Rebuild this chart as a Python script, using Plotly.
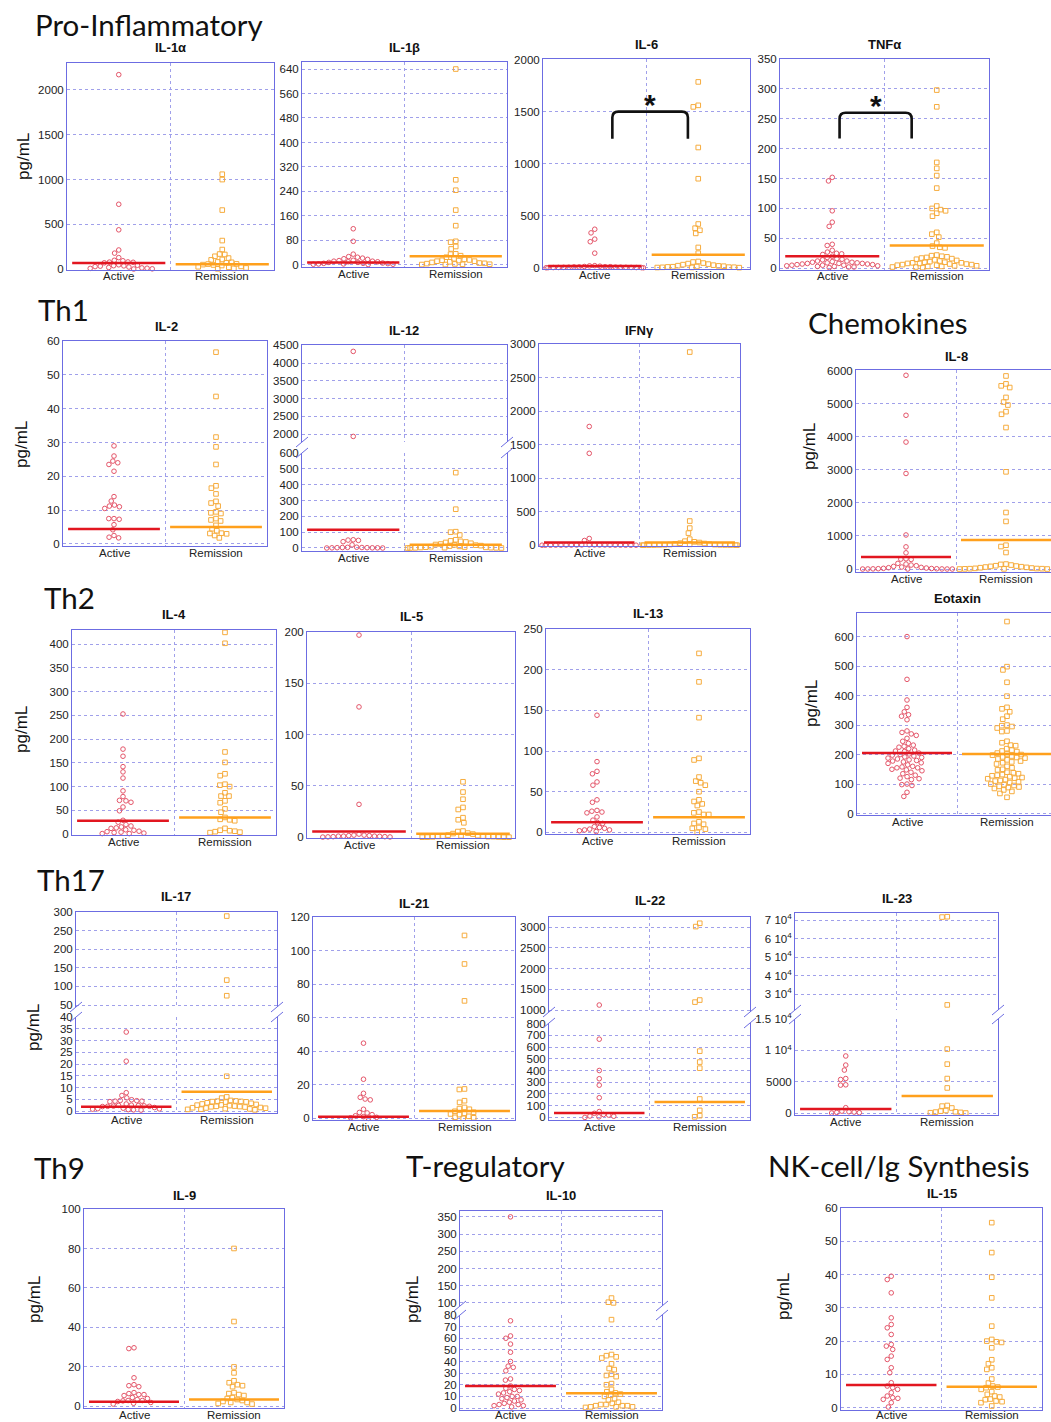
import math
import plotly.graph_objects as go

W, H = 1051, 1422
CATEGORIES = ["Active", "Remission"]

# ---------------- data (pg/mL) ----------------
IL1A_ACTIVE = [2170, 725, 440, 215, 180, 130, 100, 95, 82, 80, 78, 72, 45, 40, 38, 35, 30, 25, 20, 15, 12, 10, 5, 3, 50]
IL1A_REMISSION = [1060, 1000, 660, 320, 220, 170, 165, 145, 125, 110, 105, 82, 78, 72, 60, 52, 48, 42, 32, 28, 22, 15, 10, 5, 58]
IL1A_MEDIAN = [70, 55]
IL1A_TICKS = [0, 500, 1000, 1500, 2000]

IL1B_ACTIVE = [118, 77, 35, 27, 25, 22, 20, 18, 15, 12, 10, 8, 8, 6, 5, 5, 4, 3, 3, 2, 2, 1, 10, 12, 14]
IL1B_REMISSION = [640, 278, 244, 179, 128, 77, 74, 60, 52, 36, 35, 30, 25, 20, 18, 15, 12, 10, 8, 6, 5, 4, 3, 2, 2, 1, 1, 12, 14, 16]
IL1B_MEDIAN = [8, 28]
IL1B_TICKS = [0, 80, 160, 240, 320, 400, 480, 560, 640]

IL6_ACTIVE = [370, 335, 275, 250, 140, 20, 18, 15, 12, 10, 10, 8, 8, 6, 5, 5, 4, 4, 3, 3, 2, 2, 1, 1, 0, 0]
IL6_REMISSION = [1785, 1560, 1545, 1155, 855, 420, 380, 360, 330, 195, 140, 60, 55, 45, 40, 35, 30, 25, 20, 18, 15, 12, 10, 8, 6, 5, 4, 3, 2, 1]
IL6_MEDIAN = [18, 125]
IL6_TICKS = [0, 500, 1000, 1500, 2000]
IL6_BRACKET = dict(x=[0.17, 0.90], top=1500, leg=1240)

TNF_ACTIVE = [152, 146, 96, 77, 70, 40, 38, 30, 27, 25, 24, 23, 20, 18, 16, 15, 14, 12, 11, 10, 9, 8, 8, 7, 6, 5, 5, 4, 4, 3, 3, 2, 2, 1, 12, 10, 9, 8, 7, 6, 5]
TNF_REMISSION = [298, 270, 177, 167, 155, 134, 104, 100, 98, 96, 92, 87, 60, 57, 52, 42, 37, 35, 34, 22, 21, 20, 19, 18, 17, 16, 15, 14, 13, 12, 11, 10, 10, 9, 9, 8, 8, 7, 7, 6, 6, 5, 5, 4, 4, 3, 3, 2, 2, 1]
TNF_MEDIAN = [20, 38]
TNF_TICKS = [0, 50, 100, 150, 200, 250, 300, 350]
TNF_BRACKET = dict(x=[0.07, 0.76], top=260, leg=217)

IL2_ACTIVE = [29, 26, 24.5, 24, 23.5, 21.5, 14, 12.7, 11.5, 11.2, 11, 10.5, 7.5, 7.5, 7.3, 5.7, 4.2, 2.5, 2, 1.8]
IL2_REMISSION = [56.7, 43.6, 31.6, 28.7, 23.5, 17.2, 16.5, 14.8, 12.6, 12.1, 11.2, 9.5, 9.2, 9.0, 7.5, 7.1, 6.8, 5.5, 4.5, 3.9, 3.2, 3.1, 3.0, 2.5, 1.8]
IL2_MEDIAN = [4.4, 5.0]
IL2_TICKS = [0, 10, 20, 30, 40, 50, 60]

IL12_ACTIVE = [4330, 1935, 50, 48, 52, 40, 20, 5, 4, 3, 3, 2, 2, 1, 1, 1, 0, 0]
IL12_REMISSION = [476, 245, 103, 100, 82, 52, 45, 42, 38, 35, 30, 25, 22, 20, 18, 15, 12, 10, 8, 6, 5, 4, 3, 2, 2, 1, 1, 0, 0, 0]
IL12_MEDIAN = [115, 20]
IL12_TICKS_UPPER = [2000, 2500, 3000, 3500, 4000, 4500]
IL12_TICKS_LOWER = [0, 100, 200, 300, 400, 500, 600]

IFNG_ACTIVE = [1770, 1370, 100, 70, 5, 4, 4, 3, 3, 3, 2, 2, 2, 1, 1, 1, 1, 0, 0, 0, 0, 0, 0]
IFNG_REMISSION = [2880, 360, 255, 180, 90, 60, 50, 40, 30, 25, 20, 15, 12, 10, 8, 6, 5, 4, 3, 2, 2, 1, 1, 0, 0, 0]
IFNG_MEDIAN = [40, 40]
IFNG_TICKS = [0, 500, 1000, 1500, 2000, 2500, 3000]

IL8_ACTIVE = [5860, 4650, 3840, 2890, 1030, 670, 490, 310, 300, 290, 170, 150, 120, 100, 80, 60, 50, 40, 30, 20, 15, 10, 8, 5, 3, 2, 1, 0, 0, 0]
IL8_REMISSION = [5840, 5600, 5540, 5490, 5190, 5050, 4960, 4760, 4680, 4280, 2940, 1710, 1440, 720, 680, 500, 150, 140, 120, 100, 90, 80, 70, 60, 50, 40, 30, 20, 15, 10, 10, 5, 5, 0, 0]
IL8_MEDIAN = [360, 880]
IL8_TICKS = [0, 1000, 2000, 3000, 4000, 5000, 6000]

IL4_ACTIVE = [253, 179, 164, 142, 131, 118, 91, 79, 71, 70, 67, 57, 49, 29, 25, 20, 17, 15, 13, 12, 9, 8, 6, 5, 4, 3, 2, 1, 1]
IL4_REMISSION = [425, 402, 173, 151, 127, 123, 105, 103, 100, 87, 80, 80, 70, 66, 53, 46, 35, 31, 30, 28, 12, 8, 7, 6, 5, 4, 3]
IL4_MEDIAN = [28, 35]
IL4_TICKS = [0, 50, 100, 150, 200, 250, 300, 350, 400]

IL5_ACTIVE = [197, 127, 32, 3, 2, 2, 1.5, 1.5, 1, 1, 1, 0.8, 0.5, 0.5, 0.3, 0.2, 0.1]
IL5_REMISSION = [54, 44, 37, 29, 27, 19, 17, 14, 6, 5.5, 4, 3.5, 3, 2, 1.5, 1.3, 1, 1, 0.8, 0.5, 0.5, 0.3, 0.2, 0.1, 0, 0, 0]
IL5_MEDIAN = [5.5, 3.3]
IL5_TICKS = [0, 50, 100, 150, 200]

IL13_ACTIVE = [144, 87, 75, 72, 62, 58, 40, 37, 27, 26, 25, 24, 19, 15, 12, 11, 7, 6, 5, 4, 3, 3, 2, 1]
IL13_REMISSION = [220, 185, 141, 91, 89, 68, 63, 61, 58, 50, 40, 38, 35, 33, 25, 24, 22, 22, 13, 11, 10, 6, 5, 4, 0]
IL13_MEDIAN = [12.5, 18.5]
IL13_TICKS = [0, 50, 100, 150, 200, 250]

EOT_ACTIVE = [600, 455, 385, 360, 345, 335, 330, 318, 280, 275, 270, 265, 255, 245, 238, 232, 228, 225, 220, 215,
              212, 210, 205, 202, 200, 198, 195, 192, 190, 188, 185, 182, 180, 178, 175, 172, 170, 165, 160, 158,
              155, 155, 150, 148, 145, 140, 135, 130, 125, 120, 118, 115, 100, 98, 95, 72, 58]
EOT_REMISSION = [651, 498, 487, 445, 398, 360, 355, 345, 330, 320, 300, 298, 295, 290, 280, 278, 245, 240, 232, 230,
                 220, 215, 212, 210, 205, 202, 200, 198, 195, 192, 190, 188, 185, 182, 178, 175, 172, 168, 160, 155,
                 150, 148, 140, 138, 135, 132, 130, 128, 125, 122, 120, 118, 115, 112, 110, 108, 105, 100, 98, 95,
                 92, 90, 88, 85, 80, 75, 68, 55]
EOT_MEDIAN = [205, 202]
EOT_TICKS = [0, 100, 200, 300, 400, 500, 600]

IL17_ACTIVE = [33.6, 21.2, 7.8, 6.6, 5.6, 4.8, 4.5, 4.4, 4.2, 4.2, 4.0, 3.0, 2.5, 2.4, 2.3, 2.2, 2.1, 2.0, 2.0, 1.9, 1.5, 1.2, 1.0, 0.9, 0.8, 0.6, 0.5, 0.4]
IL17_REMISSION = [289, 117, 75, 14.8, 6.0, 5.5, 4.5, 4.3, 4.1, 3.9, 3.5, 3.3, 3.0, 2.8, 2.6, 2.5, 2.3, 2.1, 2.0, 1.9, 1.8, 1.7, 1.5, 1.4, 1.3, 1.2, 1.0, 0.9, 0.8, 0.7, 0.5, 4.2, 4.0, 3.8]
IL17_MEDIAN = [1.8, 8.2]
IL17_TICKS_UPPER = [50, 100, 150, 200, 250, 300]
IL17_TICKS_LOWER = [0, 5, 10, 15, 20, 25, 30, 35, 40]

IL21_ACTIVE = [44.8, 23.3, 14.9, 12.5, 11.5, 11, 5.4, 3.5, 3.2, 2.2, 1.5, 1, 0.6, 0.3, 0]
IL21_REMISSION = [109, 92, 70, 17.5, 17.2, 10.5, 9.5, 6.5, 5.8, 5.4, 4.2, 3.6, 3.0, 2.6, 2.2, 1.2, 0.6, 0.3, 0]
IL21_MEDIAN = [1.0, 4.4]
IL21_TICKS = [0, 20, 40, 60, 80, 100, 120]

IL22_ACTIVE = [1120, 667, 400, 330, 275, 168, 50, 35, 25, 20, 12, 10, 5, 0]
IL22_REMISSION = [3090, 3010, 1240, 1190, 565, 472, 420, 157, 60, 15, 5]
IL22_MEDIAN = [37, 132]
IL22_TICKS_UPPER = [1000, 1500, 2000, 2500, 3000]
IL22_TICKS_LOWER = [0, 100, 200, 300, 400, 500, 600, 700, 800]

IL23_ACTIVE = [9100, 7650, 6850, 5500, 5350, 4500, 4450, 850, 300, 200, 150, 100, 50, 0]
IL23_REMISSION = [71800, 71600, 24100, 10200, 7800, 5500, 4000, 1200, 1100, 800, 400, 300, 200, 150, 100, 50, 0]
IL23_MEDIAN = [640, 2730]
IL23_TICKS_UPPER = [30000, 40000, 50000, 60000, 70000]
IL23_LABELS_UPPER = ["3 10<sup>4</sup>", "4 10<sup>4</sup>", "5 10<sup>4</sup>", "6 10<sup>4</sup>", "7 10<sup>4</sup>"]
IL23_TICKS_LOWER = [0, 5000, 10000, 15000]
IL23_LABELS_LOWER = ["0", "5000", "1 10<sup>4</sup>", "1.5 10<sup>4</sup>"]

IL9_ACTIVE = [29.7, 29.3, 14.5, 11, 10.5, 10, 7, 6.5, 6, 6, 5.5, 4.5, 4, 3.5, 3, 3, 2.8, 2.5, 2, 1.6, 1.2]
IL9_REMISSION = [80, 43, 20, 17, 13, 12, 11, 10.5, 10, 7, 6.5, 6, 5.5, 4.5, 4, 3.5, 3, 2.5, 2, 2, 1.5, 1.2]
IL9_MEDIAN = [2.4, 3.5]
IL9_TICKS = [0, 20, 40, 60, 80, 100]

IL10_ACTIVE = [350, 75, 62, 60, 55, 48, 40, 36, 35, 32, 25, 24, 19, 17, 16, 15, 14, 13, 12, 10, 10, 9, 8, 7, 6, 5, 4, 3, 3, 2, 2, 1]
IL10_REMISSION = [114, 102, 100, 76, 46, 45, 44, 43, 38, 34, 33, 29, 28, 27, 21, 20, 16, 14, 13, 12, 11, 10, 8, 7, 5, 4, 3, 3, 2, 2, 2, 1, 1, 1, 0.5]
IL10_MEDIAN = [19, 12.8]
IL10_TICKS_UPPER = [100, 150, 200, 250, 300, 350]
IL10_TICKS_LOWER = [0, 10, 20, 30, 40, 50, 60, 70, 80]

IL15_ACTIVE = [39.5, 38.5, 34.5, 27, 25, 24, 22, 19, 18.5, 17.5, 15.5, 14.5, 12, 10.5, 7.5, 6.5, 6, 5.5, 4.5, 3.5, 3, 2.8, 2.5, 1.5, 0.2]
IL15_REMISSION = [55.6, 46.6, 39.2, 33, 24.5, 20.5, 20, 19.8, 19.6, 18, 14.4, 13.2, 12, 11.5, 8.6, 7.4, 6.5, 6.2, 6.0, 5.5, 4.8, 4.0, 3.5, 3.2, 2.6, 2.4, 2.0, 1.8, 1.5, 0.5]
IL15_MEDIAN = [6.8, 6.3]
IL15_TICKS = [0, 10, 20, 30, 40, 50, 60]

SECTIONS = [("Pro-Inflammatory", 33, 24), ("Th1", 36, 309), ("Chemokines", 806, 323), ("Th2", 42, 597),
            ("Th17", 35, 879), ("Th9", 32, 1167), ("T-regulatory", 404, 1165), ("NK-cell/Ig Synthesis", 766, 1165)]
UNIT_LABELS = [(23, 157), (21, 445), (809, 447), (21, 730), (811, 704), (33, 1028), (34, 1300), (412, 1300), (783, 1297)]

# ---------------- styling / layout ----------------
AX_LINE = "rgb(108,108,226)"
GRID = "rgb(160,160,234)"
RED_PT = "rgb(228,85,105)"
ORG_PT = "rgb(246,172,62)"
RED_MED = "rgb(226,22,32)"
ORG_MED = "rgb(255,160,28)"
SANS = "Liberation Sans, Arial, sans-serif"
TICK_FONT = dict(family=SANS, size=11.5, color="#222")


def seg(ytop, ybot, rng, ticks, labels=None):
    return dict(ytop=ytop, ybot=ybot, rng=rng, ticks=ticks, labels=labels)


PANELS = [
    dict(title="IL-1α", a=IL1A_ACTIVE, r=IL1A_REMISSION, med=IL1A_MEDIAN, x0=67, x1=274, tx=170, ty=47,
         segs=[seg(63, 270, (-8, 2300), IL1A_TICKS)]),
    dict(title="IL-1β", a=IL1B_ACTIVE, r=IL1B_REMISSION, med=IL1B_MEDIAN, x0=302, x1=507, tx=404, ty=47,
         segs=[seg(62, 267, (-7, 663), IL1B_TICKS)]),
    dict(title="IL-6", a=IL6_ACTIVE, r=IL6_REMISSION, med=IL6_MEDIAN, x0=543, x1=750, tx=646, ty=45,
         segs=[seg(59, 269, (-12, 2005), IL6_TICKS)], bracket=IL6_BRACKET),
    dict(title="TNFα", a=TNF_ACTIVE, r=TNF_REMISSION, med=TNF_MEDIAN, x0=780, x1=989, tx=884, ty=45,
         segs=[seg(59, 270, (-3, 350), TNF_TICKS)], bracket=TNF_BRACKET),
    dict(title="IL-2", a=IL2_ACTIVE, r=IL2_REMISSION, med=IL2_MEDIAN, x0=63, x1=267, tx=166, ty=327,
         segs=[seg(341, 546, (-0.6, 60), IL2_TICKS)]),
    dict(title="IL-12", a=IL12_ACTIVE, r=IL12_REMISSION, med=IL12_MEDIAN, x0=302, x1=507, tx=404, ty=330,
         segs=[seg(345, 442, (1778, 4510), IL12_TICKS_UPPER), seg(453, 551, (-19, 600), IL12_TICKS_LOWER)]),
    dict(title="IFNγ", a=IFNG_ACTIVE, r=IFNG_REMISSION, med=IFNG_MEDIAN, x0=539, x1=740, tx=639, ty=330,
         segs=[seg(344, 546, (-12, 3000), IFNG_TICKS)]),
    dict(title="IL-8", a=IL8_ACTIVE, r=IL8_REMISSION, med=IL8_MEDIAN, x0=856, x1=1056, tx=956, ty=356,
         segs=[seg(370, 572, (-90, 6020), IL8_TICKS)]),
    dict(title="IL-4", a=IL4_ACTIVE, r=IL4_REMISSION, med=IL4_MEDIAN, x0=72, x1=276, tx=174, ty=615,
         segs=[seg(630, 835, (-2, 430), IL4_TICKS)]),
    dict(title="IL-5", a=IL5_ACTIVE, r=IL5_REMISSION, med=IL5_MEDIAN, x0=307, x1=515, tx=411, ty=616,
         segs=[seg(632, 838, (-0.8, 200), IL5_TICKS)]),
    dict(title="IL-13", a=IL13_ACTIVE, r=IL13_REMISSION, med=IL13_MEDIAN, x0=546, x1=750, tx=648, ty=613,
         segs=[seg(629, 834, (-2, 250), IL13_TICKS)]),
    dict(title="Eotaxin", a=EOT_ACTIVE, r=EOT_REMISSION, med=EOT_MEDIAN, x0=857, x1=1057, tx=957, ty=598,
         segs=[seg(613, 815, (-5, 680), EOT_TICKS)]),
    dict(title="IL-17", a=IL17_ACTIVE, r=IL17_REMISSION, med=IL17_MEDIAN, x0=76, x1=277, tx=176, ty=897,
         segs=[seg(912, 1007, (44.7, 300), IL17_TICKS_UPPER), seg(1017, 1113, (-0.84, 40), IL17_TICKS_LOWER)]),
    dict(title="IL-21", a=IL21_ACTIVE, r=IL21_REMISSION, med=IL21_MEDIAN, x0=313, x1=515, tx=414, ty=903,
         segs=[seg(917, 1120, (-1, 120), IL21_TICKS)]),
    dict(title="IL-22", a=IL22_ACTIVE, r=IL22_REMISSION, med=IL22_MEDIAN, x0=549, x1=750, tx=650, ty=901,
         segs=[seg(917, 1012, (952, 3241), IL22_TICKS_UPPER), seg(1023, 1120, (-22, 805), IL22_TICKS_LOWER)]),
    dict(title="IL-23", a=IL23_ACTIVE, r=IL23_REMISSION, med=IL23_MEDIAN, x0=795, x1=998, tx=897, ty=898,
         segs=[seg(913, 1010, (21350, 73800), IL23_TICKS_UPPER, IL23_LABELS_UPPER),
               seg(1019, 1115, (-316, 15000), IL23_TICKS_LOWER, IL23_LABELS_LOWER)]),
    dict(title="IL-9", a=IL9_ACTIVE, r=IL9_REMISSION, med=IL9_MEDIAN, x0=84, x1=284, tx=184, ty=1195,
         segs=[seg(1209, 1408, (-0.8, 100), IL9_TICKS)]),
    dict(title="IL-10", a=IL10_ACTIVE, r=IL10_REMISSION, med=IL10_MEDIAN, x0=460, x1=662, tx=561, ty=1195,
         segs=[seg(1211, 1306, (91, 367), IL10_TICKS_UPPER), seg(1315, 1410, (-1.7, 80), IL10_TICKS_LOWER)]),
    dict(title="IL-15", a=IL15_ACTIVE, r=IL15_REMISSION, med=IL15_MEDIAN, x0=841, x1=1042, tx=942, ty=1193,
         segs=[seg(1208, 1410, (-0.7, 60), IL15_TICKS)]),
]


def seg_index(p, v):
    if len(p["segs"]) == 2 and v > p["segs"][1]["rng"][1]:
        return 0
    return len(p["segs"]) - 1


def to_px(s, v):
    r0, r1 = s["rng"]
    return s["ybot"] - (v - r0) / (r1 - r0) * (s["ybot"] - s["ytop"])


def swarm(ys, d, maxoff):
    order = sorted(range(len(ys)), key=lambda i: ys[i])
    placed, out = [], [0.0] * len(ys)
    for i in order:
        y = ys[i]
        forb = []
        for (px, py) in placed:
            dy = abs(py - y)
            if dy < d:
                h = math.sqrt(d * d - dy * dy)
                forb.append((px - h, px + h))
        cands = [0.0] + [a for a, b in forb] + [b for a, b in forb]
        cands.sort(key=lambda c: (abs(c), c))
        best = None
        for c in cands:
            if all(not (a + 1e-6 < c < b - 1e-6) for a, b in forb):
                best = c
                break
        if best is None or abs(best) > maxoff:
            best = max(-maxoff, min(maxoff, best if best is not None else 0.0))
        out[i] = best
        placed.append((best, y))
    return out


fig = go.Figure()
layout = dict(width=W, height=H, margin=dict(l=0, r=0, t=0, b=0), paper_bgcolor="white",
              plot_bgcolor="rgba(0,0,0,0)", showlegend=False)
shapes, annotations = [], []

k = 0
for p in PANELS:
    x0, x1 = p["x0"], p["x1"]
    xr = min(x1, W)
    xmax = -0.5 + 2.0 * (xr - x0) / (x1 - x0)
    px_per_unit = (x1 - x0) / 2.0
    nseg = len(p["segs"])
    groups = []
    for gi, (vals, sym, col) in enumerate([(p["a"], "circle-open", RED_PT), (p["r"], "square-open", ORG_PT)]):
        ys = [to_px(p["segs"][seg_index(p, v)], v) for v in vals]
        offs = swarm(ys, 5.2, 0.47 * px_per_unit)
        groups.append((vals, offs, sym, col, gi))
    for si, s in enumerate(p["segs"]):
        k += 1
        xs = "x" if k == 1 else f"x{k}"
        ysn = "y" if k == 1 else f"y{k}"
        is_upper = nseg == 2 and si == 0
        data_per_px = (s["rng"][1] - s["rng"][0]) / (s["ybot"] - s["ytop"])
        layout["xaxis" if k == 1 else f"xaxis{k}"] = dict(
            domain=[x0 / W, xr / W], range=[-0.5, xmax], anchor=ysn, tickmode="array", tickvals=[0, 1],
            showticklabels=False, showgrid=False, zeroline=False, showline=True,
            linecolor=AX_LINE, linewidth=1, mirror=(nseg == 1), side="top" if is_upper else "bottom", ticks="",
            automargin=False, fixedrange=True,
            minor=dict(tickmode="array", tickvals=[0.5], showgrid=True, gridcolor=GRID, griddash="dot",
                       gridwidth=1, ticks=""))
        labels = s["labels"] if s["labels"] else [str(v) for v in s["ticks"]]
        layout["yaxis" if k == 1 else f"yaxis{k}"] = dict(
            domain=[1 - s["ybot"] / H, 1 - s["ytop"] / H], range=list(s["rng"]), anchor=xs, tickmode="array",
            tickvals=s["ticks"], ticktext=labels, showgrid=True, gridcolor=GRID, griddash="dot", gridwidth=1,
            zeroline=False, showline=True, mirror=True, linecolor=AX_LINE, linewidth=1, ticks="",
            tickfont=TICK_FONT, automargin=False, fixedrange=True)
        for vals, offs, sym, col, gi in groups:
            sel = [j for j, v in enumerate(vals) if seg_index(p, v) == si]
            if sel:
                fig.add_trace(go.Scatter(
                    x=[gi + offs[j] / px_per_unit for j in sel], y=[vals[j] for j in sel], mode="markers",
                    xaxis=xs, yaxis=ysn, cliponaxis=False, hoverinfo="skip",
                    marker=dict(symbol=sym, size=4.6, color=col, line=dict(width=1, color=col))))
        for gi, (m, col) in enumerate(zip(p["med"], [RED_MED, ORG_MED])):
            if seg_index(p, m) == si:
                fig.add_trace(go.Scatter(x=[gi - 0.45, gi + 0.45], y=[m, m], mode="lines", xaxis=xs, yaxis=ysn,
                                         line=dict(color=col, width=2.5), hoverinfo="skip"))
        if si == nseg - 1:
            label_y = min(s["ybot"] + 6.5, H - 7.5)
            for gi, cat in enumerate(CATEGORIES):
                annotations.append(dict(text=cat, x=gi, xref=xs, y=1 - label_y / H, yref="paper",
                                        showarrow=False, xanchor="center", yanchor="middle",
                                        font=dict(family=SANS, size=11.5, color="#222")))
        if "bracket" in p:
            b = p["bracket"]
            bx0, bx1 = b["x"]
            rx = 6 / px_per_unit
            ry = 6 * data_per_px
            path = (f"M {bx0},{b['leg']} L {bx0},{b['top'] - ry} Q {bx0},{b['top']} {bx0 + rx},{b['top']} "
                    f"L {bx1 - rx},{b['top']} Q {bx1},{b['top']} {bx1},{b['top'] - ry} L {bx1},{b['leg']}")
            shapes.append(dict(type="path", path=path, xref=xs, yref=ysn, line=dict(color="#111", width=2.6)))
            annotations.append(dict(text="<b>*</b>", x=(bx0 + bx1) / 2, xref=xs, y=b["top"] + 7 * data_per_px,
                                    yref=ysn, showarrow=False, font=dict(family=SANS, size=30, color="#111"),
                                    xanchor="center", yanchor="middle"))
    if nseg == 2:
        for xe in (x0, xr):
            for ye in (p["segs"][0]["ybot"], p["segs"][1]["ytop"]):
                shapes.append(dict(type="line", xref="paper", yref="paper",
                                   x0=(xe - 6) / W, y0=1 - (ye + 5) / H, x1=(xe + 6) / W, y1=1 - (ye - 5) / H,
                                   line=dict(color=AX_LINE, width=1)))
    annotations.append(dict(text=f"<b>{p['title']}</b>", x=p["tx"] / W, y=1 - p["ty"] / H, xref="paper",
                            yref="paper", showarrow=False, xanchor="center", yanchor="middle",
                            font=dict(family=SANS, size=13, color="#111")))

for text, x, y in SECTIONS:
    annotations.append(dict(text=text, x=x / W, y=1 - y / H, xref="paper", yref="paper", showarrow=False,
                            xanchor="left", yanchor="middle",
                            font=dict(family="Lato, Noto Sans", size=29.5, color="#111")))
for x, y in UNIT_LABELS:
    annotations.append(dict(text="pg/mL", x=x / W, y=1 - y / H, xref="paper", yref="paper", showarrow=False,
                            xanchor="center", yanchor="middle", textangle=-90,
                            font=dict(family=SANS, size=17, color="#111")))

layout["shapes"] = shapes
layout["annotations"] = annotations
fig.update_layout(**layout)
fig.write_html("out.html", config={"displayModeBar": False},
               post_script="document.body.style.margin='0px';")
